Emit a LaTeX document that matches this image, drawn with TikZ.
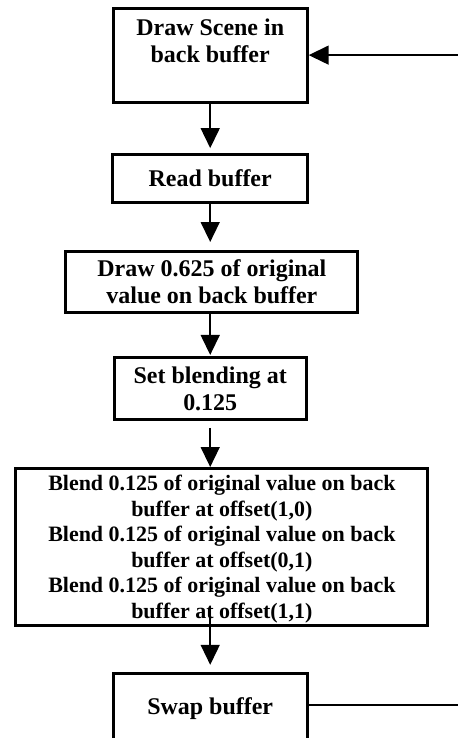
\documentclass[tikz,border=0pt]{standalone}
\usepackage{fontspec}
\setmainfont{Liberation Serif}
\usepackage{tikz}
\usetikzlibrary{arrows.meta,positioning}

\begin{document}
\begin{tikzpicture}[
    stepbox/.style={draw, line width=3pt, align=center, anchor=north, inner xsep=4pt,
        font=\bfseries\fontsize{24}{27}\selectfont},
    arrow/.style={-{Triangle[length=20pt, width=19pt]}, line width=1.5pt},
    loopline/.style={line width=2.5pt}
]
\useasboundingbox (0,0) rectangle (16.12,-25.98);

% Render loop steps
\node[stepbox, minimum width=6.83cm, inner ysep=10pt, text depth=30pt] (scene) at (7.40,-0.25) {Draw Scene in\\back buffer};
\node[stepbox, minimum width=6.86cm, minimum height=1.69cm] (read) at (7.40,-5.39) {Read buffer};
\node[stepbox, minimum width=10.28cm, minimum height=2.15cm] (draw625) at (7.46,-8.80) {Draw 0.625 of original\\value on back buffer};
\node[stepbox, minimum width=6.76cm, minimum height=2.18cm] (set) at (7.40,-12.53) {Set blending at\\0.125};
\node[stepbox, minimum width=14.50cm, inner ysep=0pt, text height=150pt, text depth=7pt,
    font=\bfseries\fontsize{22}{25.6}\selectfont] (blend) at (7.81,-16.44)
    {Blend 0.125 of original value on back\\buffer at offset(1,0)\\Blend 0.125 of original value on back\\buffer at offset(0,1)\\Blend 0.125 of original value on back\\buffer at offset(1,1)};
\node[stepbox, minimum width=6.83cm, inner ysep=24pt, text height=17pt, text depth=60pt] (swap) at (7.40,-23.65) {Swap buffer};

% Downward flow
\draw[arrow, shorten >=5pt] (scene) -- (read);
\draw[arrow, shorten >=8pt] (read.south) -- (read.south |- draw625.north);
\draw[arrow, shorten >=1pt] (draw625.south -| set.north) -- (set.north);
\draw[arrow, shorten <=7pt] (set.south) -- (set.south |- blend.north);
\path (swap.north) ++(0,2.11) coordinate (blendtap);
\draw[arrow, shorten >=7pt] (blendtap) -- (swap.north);

% Loop back from the right edge
\coordinate (loopin) at (16.12,-1.94);
\coordinate (loopout) at (16.12,-24.82);
\draw[arrow] (loopin) -- (loopin -| scene.east);
\draw[loopline] (loopout -| swap.east) -- (loopout);

\end{tikzpicture}
\end{document}
